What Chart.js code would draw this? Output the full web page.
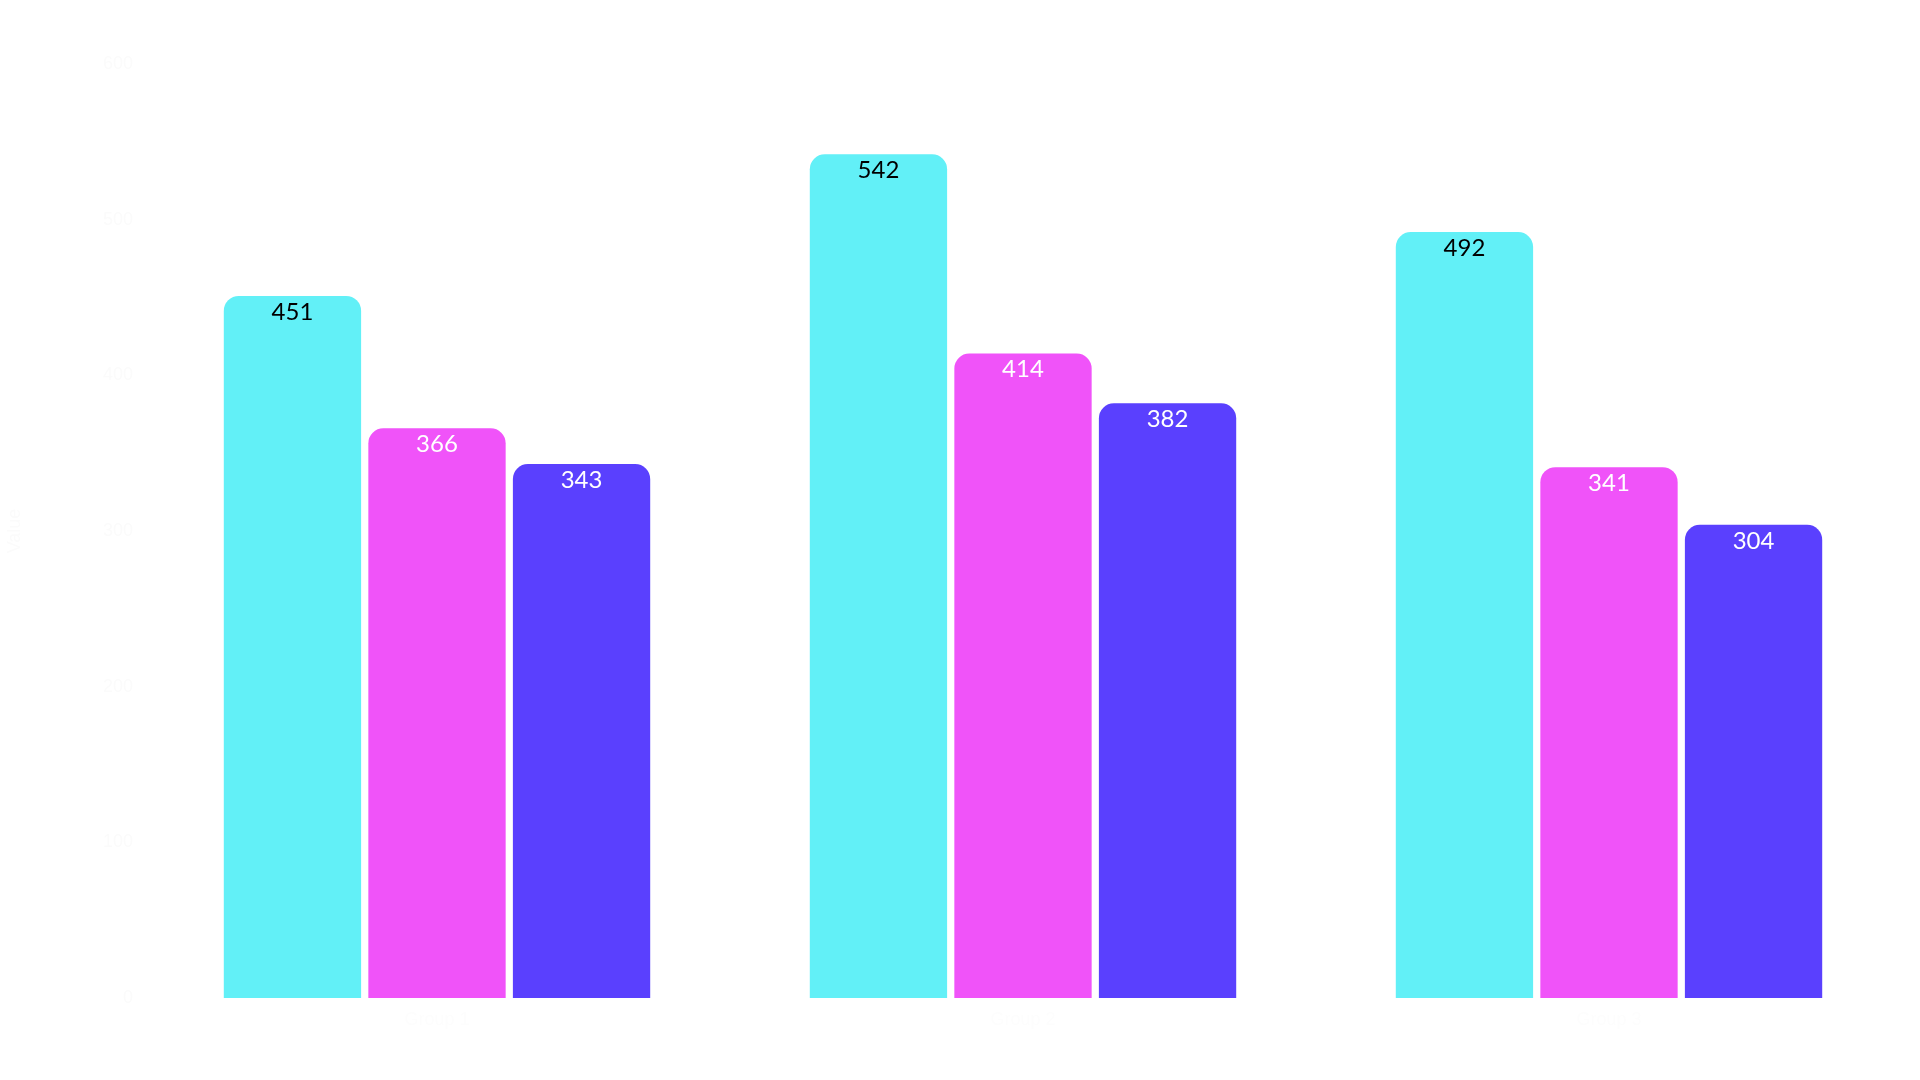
<!DOCTYPE html>
<html><head><meta charset="utf-8">
<script src="https://cdn.jsdelivr.net/npm/chart.js@4"></script>
<style>html,body{margin:0;padding:0;background:#fff}#w{width:1920px;height:1080px}</style>
</head><body><div id="w"><canvas id="c"></canvas></div>
<script>
const categories = ["Group 1", "Group 2", "Group 3"];
const seriesNames = ["Series A", "Series B", "Series C"];
const seriesA = [451, 542, 492];
const seriesB = [366, 414, 341];
const seriesC = [343, 382, 304];
const colors = ["#62F0F7", "#F053F9", "#5A40FE"];
const labelColors = ["#000000", "#ffffff", "#ffffff"];

const valueLabels = {
  id: 'valueLabels',
  afterDatasetsDraw(chart) {
    const ctx = chart.ctx;
    ctx.save();
    ctx.font = '24px Lato, "Open Sans", sans-serif';
    ctx.textAlign = 'center';
    ctx.textBaseline = 'top';
    chart.data.datasets.forEach((ds, i) => {
      chart.getDatasetMeta(i).data.forEach((bar, j) => {
        ctx.fillStyle = labelColors[i];
        ctx.fillText(String(ds.data[j]), bar.x, bar.y + 4);
      });
    });
    ctx.restore();
  }
};

new Chart(document.getElementById('c'), {
  type: 'bar',
  data: {
    labels: categories,
    datasets: [seriesA, seriesB, seriesC].map((d, i) => ({
      label: seriesNames[i], data: d, backgroundColor: colors[i],
      borderRadius: {topLeft: 15, topRight: 15, bottomLeft: 0, bottomRight: 0},
      borderSkipped: 'bottom',
      categoryPercentage: 0.74, barPercentage: 0.95
    }))
  },
  options: {
    responsive: true, maintainAspectRatio: false, animation: false,
    layout: {padding: {top: 64, right: 18, left: 0, bottom: 0}},
    plugins: {legend: {display: false}, tooltip: {enabled: false}},
    scales: {
      x: {grid: {display: false}, border: {display: false},
          ticks: {color: '#fdfdfd', font: {size: 18}},
          afterFit(s) { s.height = 82; }},
      y: {min: 0, max: 600, grid: {display: false}, border: {display: false},
          ticks: {stepSize: 100, color: '#fbfbfb', font: {size: 18}},
          title: {display: true, text: 'Value', color: '#fbfbfb', font: {size: 18}},
          afterFit(s) { s.width = 144; }}
    }
  },
  plugins: [valueLabels]
});
</script></body></html>
